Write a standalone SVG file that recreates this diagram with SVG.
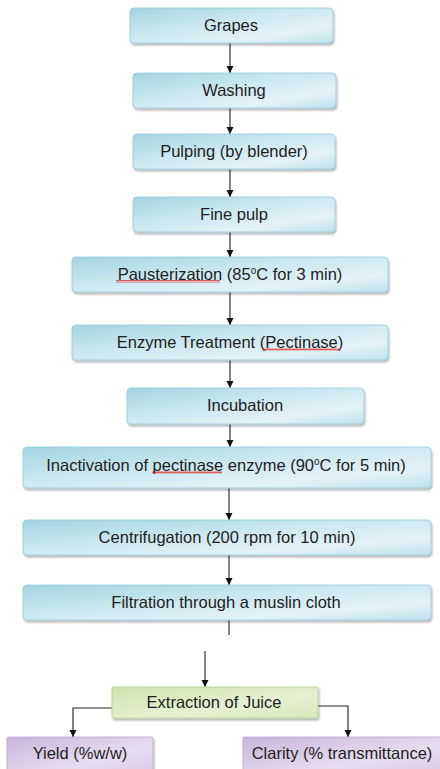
<svg xmlns="http://www.w3.org/2000/svg" width="440" height="769" viewBox="0 0 440 769">
<style>
.t{font-family:"Liberation Sans",Arial,sans-serif;font-size:16.5px;fill:#1e1e1e;text-anchor:middle}
.b{fill:url(#gb);stroke:#92cbda;stroke-width:0.8;filter:url(#sh)}
.g{fill:url(#gg);stroke:#b3cf88;stroke-width:0.8;filter:url(#sh)}
.p{fill:url(#gp);stroke:#b9a6cf;stroke-width:0.8;filter:url(#sh)}
.c{fill:none;stroke:#222;stroke-width:1.1}
.w{fill:url(#wave)}
</style>
<defs>
<linearGradient id="gb" x1="0" y1="0" x2="1" y2="1">
<stop offset="0" stop-color="#a3d4e1"/>
<stop offset="0.45" stop-color="#cde9f1"/>
<stop offset="0.75" stop-color="#e3f2f7"/>
<stop offset="1" stop-color="#bfe2eb"/>
</linearGradient>
<linearGradient id="gg" x1="0" y1="0" x2="1" y2="1">
<stop offset="0" stop-color="#cfe4ac"/>
<stop offset="0.6" stop-color="#e6f0d2"/>
<stop offset="1" stop-color="#d7e8bb"/>
</linearGradient>
<linearGradient id="gp" x1="0" y1="0" x2="1" y2="1">
<stop offset="0" stop-color="#c8b5dc"/>
<stop offset="0.6" stop-color="#e6ddef"/>
<stop offset="1" stop-color="#d6c9e6"/>
</linearGradient>
<filter id="sh" x="-10%" y="-20%" width="120%" height="160%">
<feDropShadow dx="1" dy="2" stdDeviation="1" flood-color="#000" flood-opacity="0.3"/>
</filter>
<pattern id="wave" width="4" height="3" patternUnits="userSpaceOnUse">
<polyline points="0,2.5 1,0.5 2,2.5 3,0.5 4,2.5" fill="none" stroke="#e02020" stroke-width="0.7"/>
</pattern>
<marker id="ah" markerWidth="8" markerHeight="8" refX="7" refY="3.5" orient="auto" markerUnits="userSpaceOnUse">
<path d="M0,0 L7,3.5 L0,7 z" fill="#111"/>
</marker>
</defs>

<g id="connectors">
<path class="c" d="M230,43 V73" marker-end="url(#ah)"/>
<path class="c" d="M230,108 V134" marker-end="url(#ah)"/>
<path class="c" d="M230,169 V197" marker-end="url(#ah)"/>
<path class="c" d="M230,232 V257" marker-end="url(#ah)"/>
<path class="c" d="M230,292 V325" marker-end="url(#ah)"/>
<path class="c" d="M230,360 V388" marker-end="url(#ah)"/>
<path class="c" d="M230,424 V447" marker-end="url(#ah)"/>
<path class="c" d="M229,488 V520" marker-end="url(#ah)"/>
<path class="c" d="M229,555 V585" marker-end="url(#ah)"/>
<path class="c" d="M229,620 V635"/>
<path class="c" d="M205,651 V687" marker-end="url(#ah)"/>
<path class="c" d="M112,708 H73 V737" marker-end="url(#ah)"/>
<path class="c" d="M318,706 H348 V737" marker-end="url(#ah)"/>
</g>

<g id="grapes"><rect class="b" x="130" y="8" width="203" height="35" rx="4"/><text class="t" x="231" y="31">Grapes</text></g>
<g id="washing"><rect class="b" x="133" y="73" width="203" height="35" rx="4"/><text class="t" x="234" y="96">Washing</text></g>
<g id="pulping"><rect class="b" x="133" y="134" width="202" height="35" rx="4"/><text class="t" x="234" y="157">Pulping (by blender)</text></g>
<g id="finepulp"><rect class="b" x="133" y="197" width="202" height="35" rx="4"/><text class="t" x="234" y="220">Fine pulp</text></g>
<g id="pasteurization"><rect class="b" x="72" y="257" width="316" height="35" rx="4"/><text class="t" x="230" y="280">Pausterization (85<tspan font-size="10" dy="-6">o</tspan><tspan dy="6">C for 3 min)</tspan></text><rect class="w" x="116" y="280" width="104" height="3"/></g>
<g id="enzyme"><rect class="b" x="72" y="325" width="316" height="35" rx="4"/><text class="t" x="230" y="348">Enzyme Treatment (Pectinase)</text><rect class="w" x="263" y="348" width="76" height="3"/></g>
<g id="incubation"><rect class="b" x="127" y="388" width="237" height="36" rx="4"/><text class="t" x="245" y="411">Incubation</text></g>
<g id="inactivation"><rect class="b" x="23" y="447" width="408" height="41" rx="4"/><text class="t" x="226" y="471">Inactivation of pectinase enzyme (90<tspan font-size="10" dy="-6">o</tspan><tspan dy="6">C for 5 min)</tspan></text><rect class="w" x="152" y="471" width="70" height="3"/></g>
<g id="centrifugation"><rect class="b" x="23" y="520" width="408" height="35" rx="4"/><text class="t" x="227" y="543">Centrifugation (200 rpm for 10 min)</text></g>
<g id="filtration"><rect class="b" x="23" y="585" width="408" height="35" rx="4"/><text class="t" x="226" y="608">Filtration through a muslin cloth</text></g>
<g id="extraction"><rect class="g" x="112" y="687" width="206" height="31" rx="1"/><text class="t" x="214" y="708">Extraction of Juice</text></g>
<g id="yield"><rect class="p" x="7" y="737" width="146" height="40" rx="1"/><text class="t" x="80" y="759">Yield (%w/w)</text></g>
<g id="clarity"><rect class="p" x="243" y="737" width="200" height="40" rx="1"/><text class="t" x="342" y="759">Clarity (% transmittance)</text></g>
</svg>
